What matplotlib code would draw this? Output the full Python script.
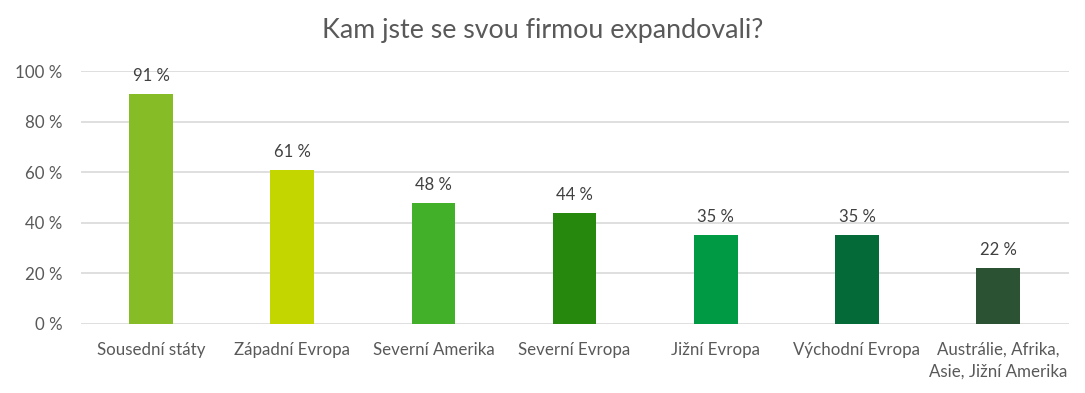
import matplotlib
matplotlib.use('Agg')
import matplotlib.pyplot as plt
import numpy as np

plt.rcParams['font.family'] = ['Lato', 'DejaVu Sans']

categories = ['Sousední státy', 'Západní Evropa', 'Severní Amerika', 'Severní Evropa',
              'Jižní Evropa', 'Východní Evropa', 'Austrálie, Afrika,\nAsie, Jižní Amerika']
values = [91, 61, 48, 44, 35, 35, 22]
bar_colors = ['#86BC25', '#C4D600', '#43B02A', '#26890D', '#009A44', '#046A38', '#2C5234']
yticks = [0, 20, 40, 60, 80, 100]

text_color = '#595959'

fig = plt.figure(figsize=(10.85, 3.93), dpi=100)
ax = fig.add_axes([0.0742, 0.1756, 0.9108, 0.6434])

x = np.arange(len(categories))
bars = ax.bar(x, values, width=0.31, color=bar_colors, zorder=3)

for xi, v in zip(x, values):
    ax.text(xi, v + 4, f'{v} %', ha='center', va='bottom', fontsize=12, color='#404040')

ax.set_xlim(-0.5, len(categories) - 0.5)
ax.set_ylim(0, 100)
ax.set_yticks(yticks)
ax.set_yticklabels([f'{t} %' for t in yticks])
ax.set_xticks(x)
ax.set_xticklabels(categories, linespacing=1.45)
ax.tick_params(axis='both', length=0, labelsize=12.2, colors=text_color)
ax.tick_params(axis='y', pad=13)
ax.tick_params(axis='x', pad=13)
ax.yaxis.grid(True, color='#D9D9D9', linewidth=1.2, zorder=0)
for s in ax.spines.values():
    s.set_visible(False)

fig.text(0.5, 0.922, 'Kam jste se svou firmou expandovali?', ha='center', va='center',
         fontsize=19.3, color=text_color)

fig.savefig('out.png', dpi=100, facecolor='white')
